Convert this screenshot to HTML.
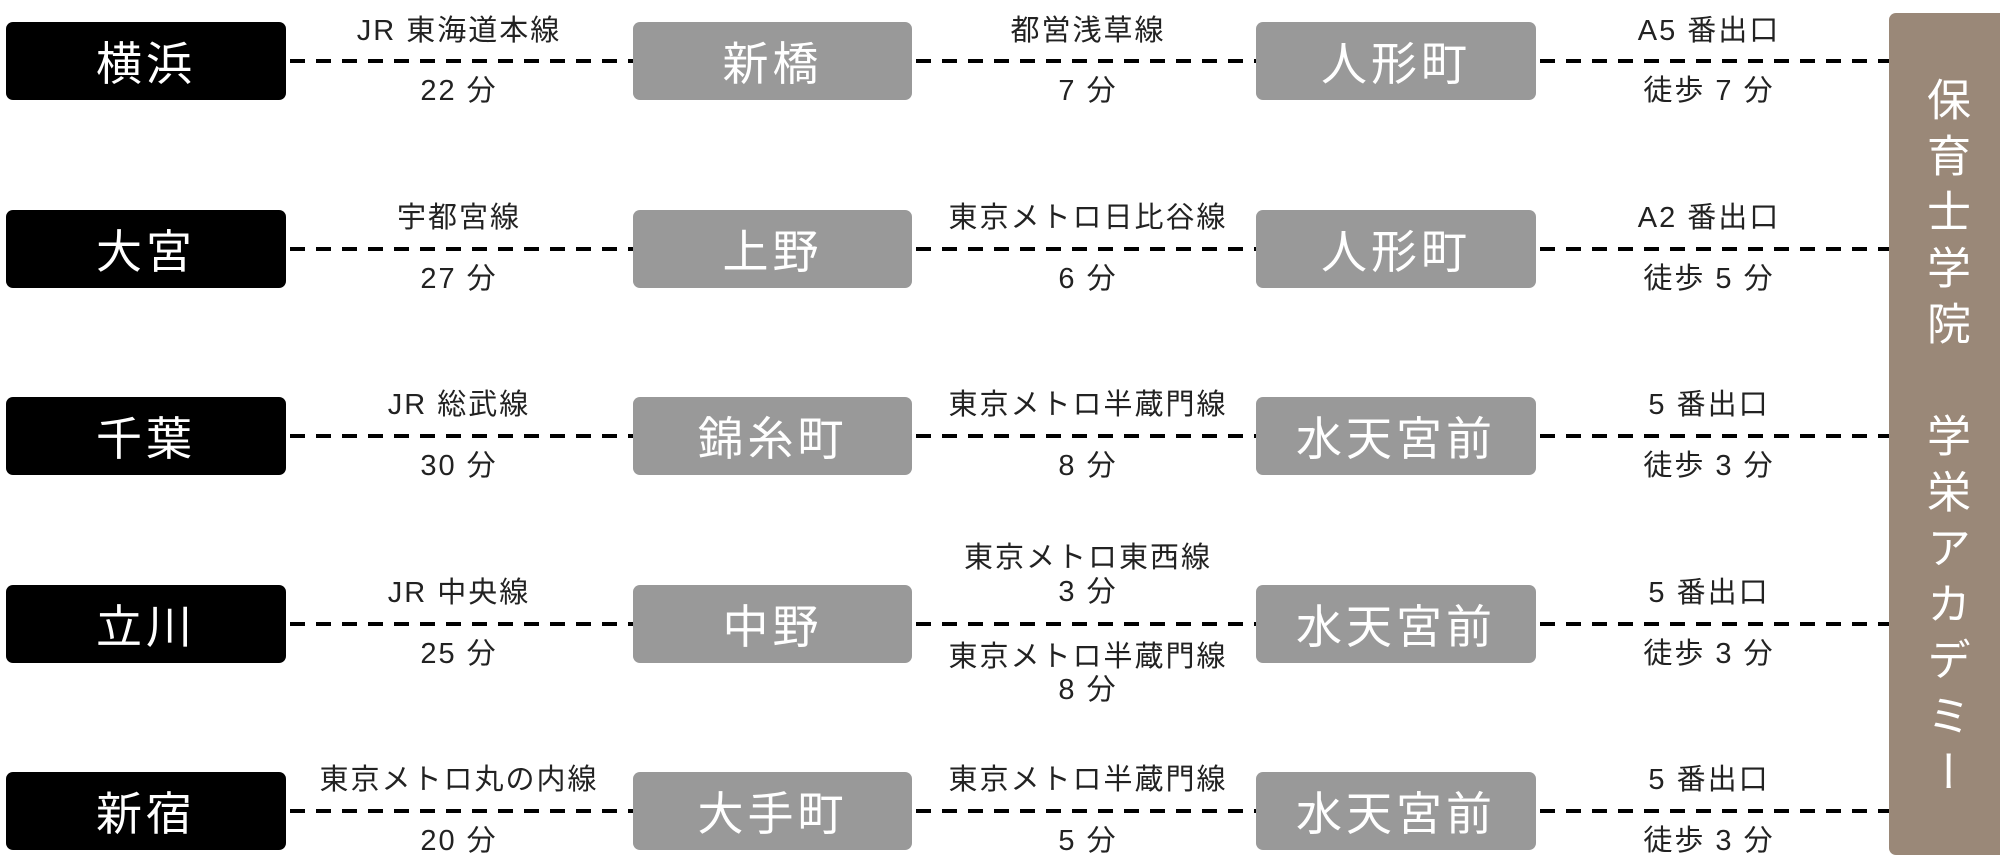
<!DOCTYPE html>
<html><head><meta charset="utf-8"><style>
body{margin:0;width:2000px;height:868px;background:#fff;position:relative;overflow:hidden;font-family:"Liberation Sans","Noto Sans CJK JP",sans-serif}
.b{position:absolute;height:78px;border-radius:7px;color:#fff;font-size:46px;display:flex;align-items:center;justify-content:center;letter-spacing:4px}
.k{background:#000;left:6px;width:280px}
.g{background:#999}
.g1{left:633px;width:279px}
.g2{left:1256px;width:280px}
.t{position:absolute;width:400px;margin-left:-200px;text-align:center;font-size:29px;color:#222;line-height:32px;letter-spacing:2px}
.brown{position:absolute;left:1889px;top:13px;width:111px;height:842px;background:#9a8878;border-radius:7px 0 0 7px}
.v{position:absolute;left:1922px;top:77px;writing-mode:vertical-rl;font-size:44px;color:#fff;letter-spacing:12px;line-height:44px}
</style></head><body>
<svg width="2000" height="868" style="position:absolute;left:0;top:0">
<g stroke="#000" stroke-width="4" stroke-dasharray="15 11">
<line x1="290" x2="633" y1="61" y2="61"/><line x1="916" x2="1256" y1="61" y2="61"/><line x1="1540" x2="1889" y1="61" y2="61"/>
<line x1="290" x2="633" y1="249" y2="249"/><line x1="916" x2="1256" y1="249" y2="249"/><line x1="1540" x2="1889" y1="249" y2="249"/>
<line x1="290" x2="633" y1="436" y2="436"/><line x1="916" x2="1256" y1="436" y2="436"/><line x1="1540" x2="1889" y1="436" y2="436"/>
<line x1="290" x2="633" y1="624" y2="624"/><line x1="916" x2="1256" y1="624" y2="624"/><line x1="1540" x2="1889" y1="624" y2="624"/>
<line x1="290" x2="633" y1="811" y2="811"/><line x1="916" x2="1256" y1="811" y2="811"/><line x1="1540" x2="1889" y1="811" y2="811"/>
</g></svg>
<div class="brown"></div>
<div class="v">保育士学院　学栄アカデミー</div>

<div class="b k" style="top:22px">横浜</div>
<div class="b g g1" style="top:22px">新橋</div>
<div class="b g g2" style="top:22px">人形町</div>
<div class="t" style="left:459px;top:15px">JR 東海道本線</div>
<div class="t" style="left:459px;top:75px">22 分</div>
<div class="t" style="left:1088px;top:15px">都営浅草線</div>
<div class="t" style="left:1088px;top:75px">7 分</div>
<div class="t" style="left:1709px;top:15px">A5 番出口</div>
<div class="t" style="left:1709px;top:75px">徒歩 7 分</div>

<div class="b k" style="top:210px">大宮</div>
<div class="b g g1" style="top:210px">上野</div>
<div class="b g g2" style="top:210px">人形町</div>
<div class="t" style="left:459px;top:202px">宇都宮線</div>
<div class="t" style="left:459px;top:263px">27 分</div>
<div class="t" style="left:1088px;top:202px">東京メトロ日比谷線</div>
<div class="t" style="left:1088px;top:263px">6 分</div>
<div class="t" style="left:1709px;top:202px">A2 番出口</div>
<div class="t" style="left:1709px;top:263px">徒歩 5 分</div>

<div class="b k" style="top:397px">千葉</div>
<div class="b g g1" style="top:397px">錦糸町</div>
<div class="b g g2" style="top:397px">水天宮前</div>
<div class="t" style="left:459px;top:389px">JR 総武線</div>
<div class="t" style="left:459px;top:450px">30 分</div>
<div class="t" style="left:1088px;top:389px">東京メトロ半蔵門線</div>
<div class="t" style="left:1088px;top:450px">8 分</div>
<div class="t" style="left:1709px;top:389px">5 番出口</div>
<div class="t" style="left:1709px;top:450px">徒歩 3 分</div>

<div class="b k" style="top:585px">立川</div>
<div class="b g g1" style="top:585px">中野</div>
<div class="b g g2" style="top:585px">水天宮前</div>
<div class="t" style="left:459px;top:577px">JR 中央線</div>
<div class="t" style="left:459px;top:638px">25 分</div>
<div class="t" style="left:1088px;top:542px">東京メトロ東西線</div>
<div class="t" style="left:1088px;top:576px">3 分</div>
<div class="t" style="left:1088px;top:641px">東京メトロ半蔵門線</div>
<div class="t" style="left:1088px;top:674px">8 分</div>
<div class="t" style="left:1709px;top:577px">5 番出口</div>
<div class="t" style="left:1709px;top:638px">徒歩 3 分</div>

<div class="b k" style="top:772px">新宿</div>
<div class="b g g1" style="top:772px">大手町</div>
<div class="b g g2" style="top:772px">水天宮前</div>
<div class="t" style="left:459px;top:764px">東京メトロ丸の内線</div>
<div class="t" style="left:459px;top:825px">20 分</div>
<div class="t" style="left:1088px;top:764px">東京メトロ半蔵門線</div>
<div class="t" style="left:1088px;top:825px">5 分</div>
<div class="t" style="left:1709px;top:764px">5 番出口</div>
<div class="t" style="left:1709px;top:825px">徒歩 3 分</div>
</body></html>
